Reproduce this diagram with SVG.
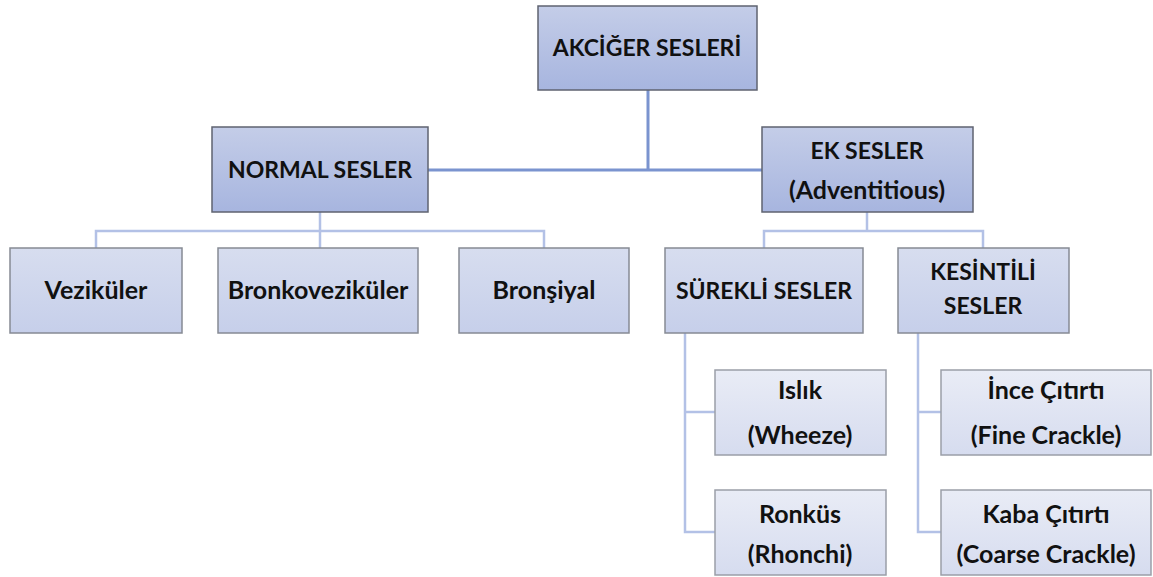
<svg xmlns="http://www.w3.org/2000/svg" width="1153" height="577" viewBox="0 0 1153 577">
<defs>
<linearGradient id="g1" x1="0" y1="0" x2="0" y2="1"><stop offset="0" stop-color="#c4cde8"/><stop offset="1" stop-color="#a7b5df"/></linearGradient>
<linearGradient id="g2" x1="0" y1="0" x2="0" y2="1"><stop offset="0" stop-color="#d7ddef"/><stop offset="1" stop-color="#c6cfea"/></linearGradient>
<linearGradient id="g3" x1="0" y1="0" x2="0" y2="1"><stop offset="0" stop-color="#e9ecf6"/><stop offset="1" stop-color="#d6dcef"/></linearGradient>
</defs>
<style>
.b1{fill:url(#g1);stroke:#5f6370;stroke-width:1.5}
.b2{fill:url(#g2);stroke:#868a94;stroke-width:1.5}
.b3{fill:url(#g3);stroke:#9a9ea8;stroke-width:1.5}
.main{fill:none;stroke:#7b94cf;stroke-width:3}
.sub{fill:none;stroke:#b3c1e6;stroke-width:2.5}
text{font-family:Lato,"Liberation Sans",sans-serif;font-weight:bold;font-size:23px;fill:#111;text-anchor:middle}
text.m{font-size:25px}
</style>
<rect width="1153" height="577" fill="#fff"/>
<g id="connectors">
<path class="main" d="M648 90V170M428 170H762"/>
<path class="sub" d="M320 212V231M96 248V231H544V248M320 231V248"/>
<path class="sub" d="M867 212V231M764 248V231H983V248"/>
<path class="sub" d="M685 333V532H715M685 412H715"/>
<path class="sub" d="M918 333V532H941M918 412H941"/>
</g>
<g id="akciger"><rect class="b1" x="538" y="6" width="219" height="84"/><text x="647" y="56">AKCİĞER SESLERİ</text></g>
<g id="normal"><rect class="b1" x="212" y="127" width="216" height="85"/><text x="320" y="178">NORMAL SESLER</text></g>
<g id="ek"><rect class="b1" x="762" y="127" width="211" height="85"/><text x="867" y="159">EK SESLER</text><text class="m" x="867" y="199">(Adventitious)</text></g>
<g id="vezikuler"><rect class="b2" x="10" y="248" width="172" height="85"/><text class="m" x="96" y="299">Veziküler</text></g>
<g id="bronkovezikuler"><rect class="b2" x="218" y="248" width="200" height="85"/><text class="m" x="318" y="299">Bronkoveziküler</text></g>
<g id="bronsiyal"><rect class="b2" x="459" y="248" width="170" height="85"/><text class="m" x="544" y="299">Bronşiyal</text></g>
<g id="surekli"><rect class="b2" x="665" y="248" width="198" height="85"/><text x="764" y="299">SÜREKLİ SESLER</text></g>
<g id="kesintili"><rect class="b2" x="898" y="248" width="171" height="85"/><text x="983" y="280">KESİNTİLİ</text><text x="983" y="314">SESLER</text></g>
<g id="islik"><rect class="b3" x="715" y="370" width="171" height="85"/><text class="m" x="800" y="399">Islık</text><text class="m" x="800" y="444">(Wheeze)</text></g>
<g id="ronkus"><rect class="b3" x="715" y="490" width="171" height="85"/><text class="m" x="800" y="523">Ronküs</text><text class="m" x="800" y="563">(Rhonchi)</text></g>
<g id="ince"><rect class="b3" x="941" y="370" width="210" height="85"/><text class="m" x="1046" y="399">İnce Çıtırtı</text><text class="m" x="1046" y="444">(Fine Crackle)</text></g>
<g id="kaba"><rect class="b3" x="941" y="490" width="210" height="85"/><text class="m" x="1046" y="523">Kaba Çıtırtı</text><text class="m" x="1046" y="563">(Coarse Crackle)</text></g>
</svg>
